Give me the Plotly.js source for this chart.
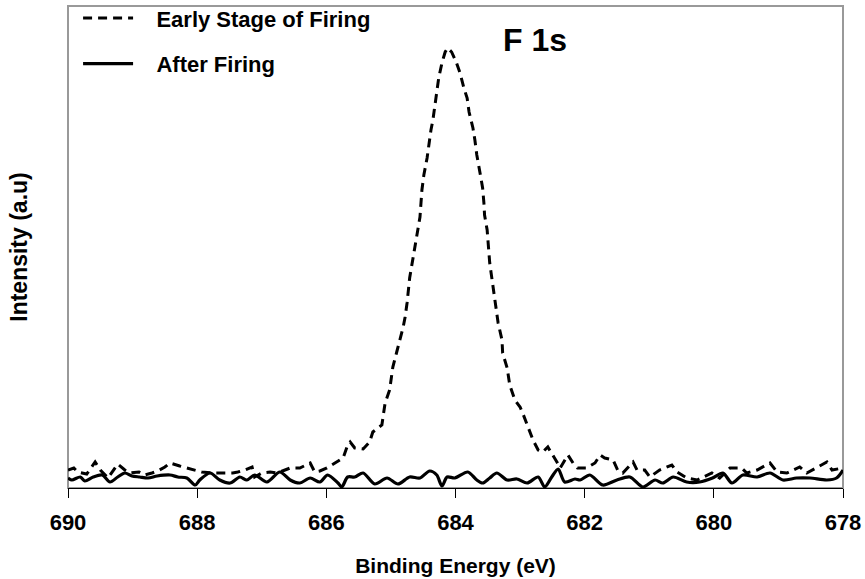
<!DOCTYPE html>
<html>
<head>
<meta charset="utf-8">
<script src="https://cdn.plot.ly/plotly-3.0.1.min.js"></script>
<style>html,body{margin:0;padding:0;background:#fff;}#chart{width:865px;height:579px;}</style>
</head>
<body>
<div id="chart"></div>
<script>
// Early Stage of Firing (dashed)
const earlyEnergy = [690.00,689.91,689.85,689.71,689.58,689.50,689.38,689.30,689.23,689.12,689.04,688.90,688.81,688.70,688.61,688.50,688.42,688.27,688.16,688.03,687.93,687.76,687.65,687.45,687.37,687.26,687.15,687.11,687.00,686.87,686.76,686.56,686.41,686.25,686.18,686.10,685.99,685.91,685.84,685.74,685.68,685.63,685.56,685.43,685.33,685.28,685.14,685.09,685.02,684.97,684.91,684.86,684.81,684.78,684.75,684.71,684.64,684.58,684.55,684.52,684.49,684.44,684.41,684.38,684.35,684.32,684.29,684.26,684.21,684.16,684.12,684.06,683.99,683.93,683.87,683.82,683.79,683.73,683.70,683.67,683.62,683.58,683.56,683.55,683.51,683.47,683.39,683.34,683.28,683.27,683.20,683.16,683.08,683.00,682.96,682.88,682.80,682.72,682.65,682.57,682.51,682.43,682.38,682.31,682.26,682.18,682.11,681.97,681.84,681.76,681.69,681.56,681.49,681.41,681.25,681.19,681.07,680.99,680.84,680.65,680.57,680.42,680.26,680.03,679.91,679.75,679.57,679.49,679.33,679.13,679.02,678.87,678.67,678.56,678.41,678.25,678.17,678.00];
const earlyIntensity = [18,20,16,14,26,18,10,17,24,18,15,16,13,15,17,21,25,22,20,18,16,15,15,15,16,18,21,11,15,16,15,20,20,25,16,17,20,23,26,30,41,46,40,39,46,56,63,85,98,121,136,148,161,171,185,210,235,260,271,298,313,330,345,358,368,383,398,410,425,436,440,436,426,415,400,390,376,360,348,333,315,300,285,273,258,225,188,165,148,135,120,103,88,81,75,61,48,38,36,41,35,26,20,28,33,25,20,20,25,33,30,28,18,15,26,18,18,11,18,23,16,10,8,15,10,20,20,15,18,25,16,15,21,15,20,26,18,20];

// After Firing (solid)
const afterEnergy = [690.00,689.94,689.81,689.74,689.61,689.47,689.35,689.23,689.12,689.01,688.89,688.76,688.62,688.42,688.30,688.16,688.03,687.96,687.80,687.65,687.49,687.34,687.23,687.11,686.92,686.72,686.56,686.41,686.25,686.10,685.98,685.82,685.76,685.67,685.56,685.43,685.25,685.06,684.89,684.71,684.55,684.40,684.29,684.21,684.13,684.01,683.81,683.67,683.58,683.47,683.36,683.20,683.05,682.89,682.72,682.62,682.51,682.41,682.31,682.15,682.07,681.92,681.72,681.50,681.30,681.10,680.91,680.79,680.63,680.42,680.22,680.02,679.86,679.72,679.55,679.33,679.13,678.93,678.72,678.51,678.25,678.10,678.00];
const afterIntensity = [10,8,11,7,11,13,6,11,15,12,11,10,12,13,11,10,3,8,15,8,5,11,8,13,6,16,8,5,10,6,13,5,1,11,11,15,4,10,4,11,10,17,13,2,11,10,16,8,5,10,15,8,9,5,11,1,11,19,6,9,8,13,3,8,11,1,8,5,11,6,6,10,15,5,13,11,15,8,10,10,8,10,18];

const xTicks = [690,688,686,684,682,680,678];
const seriesNames = ["Early Stage of Firing","After Firing"];

const FONT = "Liberation Sans, Arial, Helvetica, sans-serif";
const PAD = "\u00a0\u00a0\u00a0";

const traces = [
  {x: earlyEnergy, y: earlyIntensity, name: PAD + seriesNames[0], mode: "lines", legendgroup: "a",
   line: {color: "#000", width: 3, dash: "9px,6px"}},
  {x: afterEnergy, y: afterIntensity, name: PAD + seriesNames[1], mode: "lines", legendgroup: "b",
   line: {color: "#000", width: 3.2, shape: "spline", smoothing: 0.8}}
];

const layout = {
  width: 865, height: 579,
  margin: {l: 68, r: 22, t: 6, b: 91, autoexpand: false},
  paper_bgcolor: "#fff", plot_bgcolor: "#fff",
  showlegend: true,
  legend: {x: 0.013, y: 1.018, xanchor: "left", yanchor: "top", bgcolor: "rgba(0,0,0,0)",
           font: {family: FONT, size: 22, color: "#000", weight: "bold"},
           itemwidth: 50, traceorder: "grouped", tracegroupgap: 14},
  xaxis: {range: [690, 678], tickvals: xTicks, ticktext: xTicks.map(String),
          ticks: "outside", ticklen: 9, tickwidth: 1, tickcolor: "#000",
          ticklabelstandoff: 6,
          showline: true, linecolor: "#000", linewidth: 1, showgrid: false, zeroline: false,
          tickfont: {family: FONT, size: 22, color: "#000", weight: "bold"},
          title: {text: "Binding Energy (eV)", standoff: 23,
                  font: {family: FONT, size: 21, color: "#000", weight: "bold"}}},
  yaxis: {range: [0, 482], showticklabels: false, ticks: "", showgrid: false, zeroline: false,
          showline: false,
          title: {text: "\u00a0Intensity (a.u)", standoff: 32,
                  font: {family: FONT, size: 23, color: "#000", weight: "bold"}}},
  shapes: [{type: "rect", xref: "paper", yref: "paper", x0: 0, x1: 1, y0: 0, y1: 1,
            line: {color: "#999", width: 2}, layer: "below"}],
  annotations: [{text: "F 1s", xref: "paper", yref: "paper", x: 0.602, y: 0.93,
                 xanchor: "center", yanchor: "middle", showarrow: false,
                 font: {family: FONT, size: 32, color: "#000", weight: "bold"}}]
};

Plotly.newPlot("chart", traces, layout, {displayModeBar: false, staticPlot: true});
</script>
</body>
</html>
